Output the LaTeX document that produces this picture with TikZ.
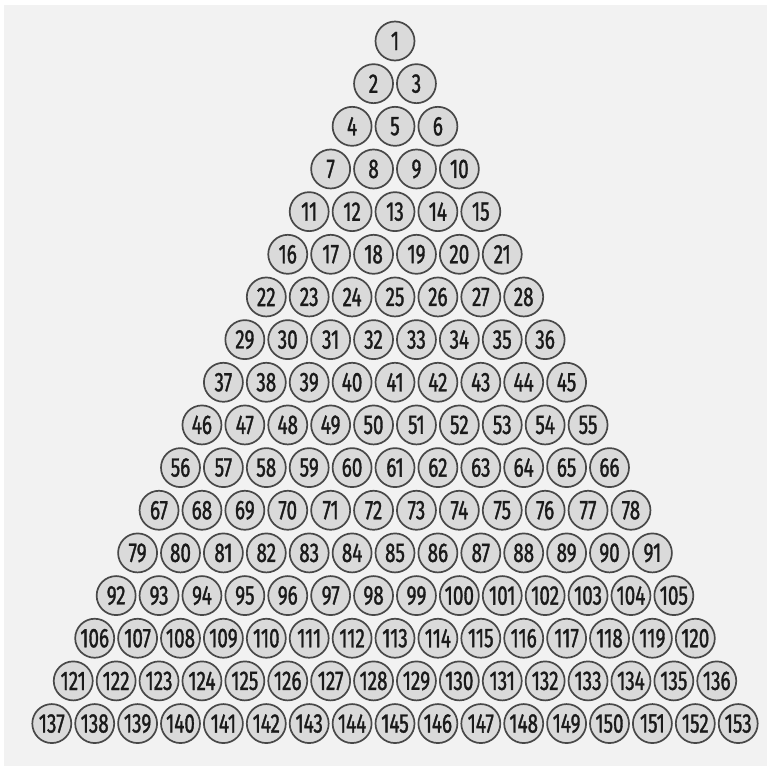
\documentclass[tikz,border=0pt]{standalone}
\usepackage{fontspec}
\setmainfont{Fira Sans}[FakeStretch=0.7,FakeBold=1.2]
\definecolor{bgray}{HTML}{F2F2F2}
\definecolor{ballfill}{HTML}{DADADA}
\definecolor{ballline}{HTML}{484848}
\definecolor{numcol}{HTML}{1A1A1A}
\begin{document}
\begin{tikzpicture}[x=1pt,y=1pt,
  ball/.style={circle,draw=ballline,line width=1.7pt,fill=ballfill,minimum size=39pt,inner sep=0pt,
    text=numcol,font=\fontsize{27}{27}\selectfont}]
\fill[white] (0,0) rectangle (767,-769);
\useasboundingbox (0,0) rectangle (767,-769);
\fill[bgray] (4,-5) rectangle (767,-766);
\foreach \r in {1,...,17}{
  \foreach \k in {1,...,\r}{
    \pgfmathtruncatemacro{\n}{\r*(\r-1)/2+\k}
    \pgfmathsetmacro{\xx}{395+(\k-(\r+1)/2)*42.9}
    \pgfmathsetmacro{\yy}{-(41+(\r-1)*42.66)}
    \node[ball] (c\n) at (\xx,\yy) {\n};
  }
}
\end{tikzpicture}
\end{document}
